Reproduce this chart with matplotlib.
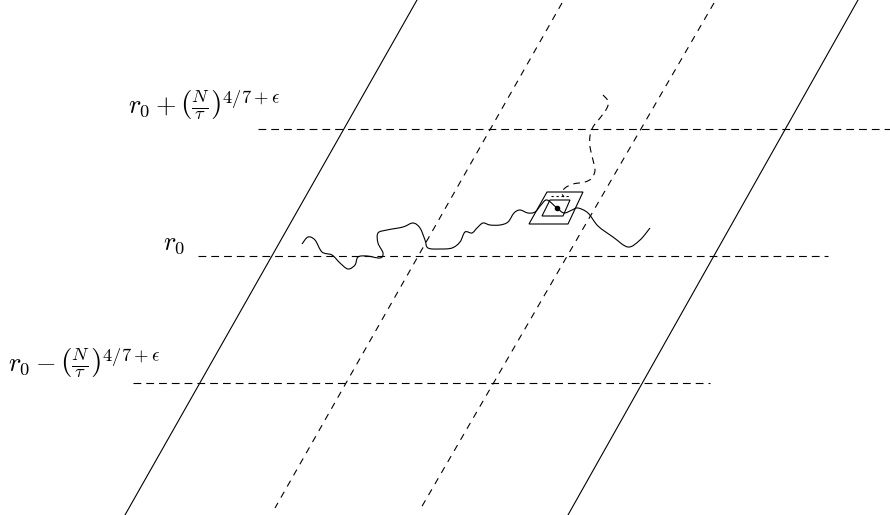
import numpy as np
import matplotlib.pyplot as plt
from matplotlib.path import Path
from matplotlib.patches import PathPatch, Polygon

plt.rcParams['mathtext.fontset'] = 'cm'

# level lines: y position, x start, x end (pixel units of the sketch)
level_y = [129, 256, 383]
level_x0 = [258, 198, 133]
level_x1 = [890, 828, 710]
level_labels = [r'$r_0+\left(\frac{N}{\tau}\right)^{4/7+\epsilon}$',
                r'$r_0$',
                r'$r_0-\left(\frac{N}{\tau}\right)^{4/7+\epsilon}$']
label_x = [128, 163, 8]
label_y = [114, 250, 372]

# slanted lines: (x top, y top, x bottom, y bottom)
solid_lines = [(417, 0, 125, 515), (858, 0, 568, 515)]
dashed_lines = [(562, 3, 275, 508), (714, 3, 421, 508)]

# random walk (solid)
walk_x = [302, 308, 315, 322, 332, 340, 348, 355, 358, 367, 380, 383, 378, 378,
          387, 403, 413, 420, 425, 428, 440, 452, 460, 465, 472, 477, 483, 490,
          500, 508, 514, 520, 528, 535, 541, 547, 557, 564, 572, 578, 588, 598,
          613, 628, 640, 650]
walk_y = [244, 237, 240, 252, 255, 263, 269, 265, 257, 256, 258, 253, 243, 233,
          230, 227, 223, 228, 240, 248, 249, 248, 242, 232, 233, 228, 223, 225,
          225, 222, 213, 210, 213, 212, 205, 200, 208, 213, 210, 208, 213, 226,
          237, 247, 240, 228]

# escaping path (dashed)
esc_x = [603, 608, 607, 600, 593, 590, 590, 593, 595, 592, 585, 573, 565, 562, 564]
esc_y = [95, 101, 108, 118, 127, 136, 147, 160, 170, 178, 182, 184, 188, 193, 197]

# boxes around the point
outer_box = [(547, 192), (583, 192), (568, 224), (529, 224)]
inner_box = [(550, 200), (570, 200), (563, 216), (542, 216)]
dot = (557, 208)


def smooth_path(xs, ys):
    # catmull-rom through the points, drawn as cubic beziers
    p = np.column_stack([xs, ys]).astype(float)
    p = np.vstack([p[0], p, p[-1]])
    verts = [p[1]]
    codes = [Path.MOVETO]
    for i in range(1, len(p) - 2):
        c1 = p[i] + (p[i + 1] - p[i - 1]) / 6
        c2 = p[i + 1] - (p[i + 2] - p[i]) / 6
        verts += [c1, c2, p[i + 1]]
        codes += [Path.CURVE4] * 3
    return Path(verts, codes)


fig = plt.figure(figsize=(8.9, 5.15), dpi=100)
ax = fig.add_axes([0, 0, 1, 1])
ax.set_xlim(0, 890)
ax.set_ylim(515, 0)
ax.axis('off')

lw = 0.8
for x0, y0, x1, y1 in solid_lines:
    ax.plot([x0, x1], [y0, y1], color='black', lw=lw)
for x0, y0, x1, y1 in dashed_lines:
    ax.plot([x0, x1], [y0, y1], color='black', lw=lw, dashes=(6, 5.5))

for y, xa, xb in zip(level_y, level_x0, level_x1):
    ax.plot([xa, xb], [y, y], color='black', lw=lw, dashes=(7, 4.5))

for txt, x, y in zip(level_labels, label_x, label_y):
    ax.text(x, y, txt, fontsize=19, ha='left', va='baseline')

ax.add_patch(PathPatch(smooth_path(walk_x, walk_y), fill=False, lw=lw, color='black'))
ax.add_patch(PathPatch(smooth_path(esc_x, esc_y), fill=False, lw=lw, color='black',
                       linestyle=(0, (6, 4.5))))
ax.plot([551, 571], [196, 196], color='black', lw=lw, dashes=(2, 2.5))

ax.add_patch(Polygon(outer_box, closed=True, fill=False, lw=lw, color='black'))
ax.add_patch(Polygon(inner_box, closed=True, fill=False, lw=lw, color='black'))
ax.plot(*dot, 'o', color='black', ms=3)

fig.savefig('out.png', dpi=100)
